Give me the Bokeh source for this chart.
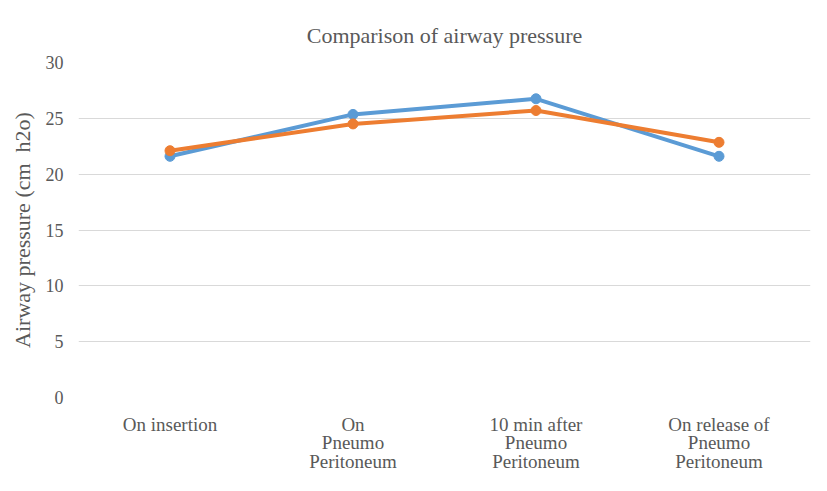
from bokeh.plotting import figure
from bokeh.models import FactorRange, Range1d, FixedTicker, Title
from bokeh.embed import file_html
from bokeh.resources import INLINE

categories = ["On insertion", "On\nPneumo\nPeritoneum", "10 min after\nPneumo\nPeritoneum", "On release of\nPneumo\nPeritoneum"]
series_blue = [21.6, 25.35, 26.75, 21.6]
series_orange = [22.1, 24.5, 25.7, 22.85]
y_ticks = [0, 5, 10, 15, 20, 25, 30]

FONT = "Liberation Serif"
TXT = "#595959"

p = figure(width=811, height=475, x_range=FactorRange(*categories, range_padding=0),
           y_range=Range1d(0, 30), output_backend="svg", toolbar_location=None,
           min_border_left=78, min_border_right=1, min_border_top=62, min_border_bottom=73)
p.title = Title(text="Comparison of airway pressure", align="center", text_font=FONT,
                text_font_size="22px", text_font_style="normal", text_color=TXT, standoff=30)
p.outline_line_color = None
p.background_fill_color = "white"
p.border_fill_color = "white"

p.line(categories, series_blue, line_color="#5B9BD5", line_width=4)
p.scatter(categories, series_blue, size=10, fill_color="#5B9BD5", line_color="#5B9BD5")
p.line(categories, series_orange, line_color="#ED7D31", line_width=4)
p.scatter(categories, series_orange, size=10, fill_color="#ED7D31", line_color="#ED7D31")

p.xgrid.grid_line_color = None
p.ygrid.grid_line_color = "#d9d9d9"
p.ygrid.grid_line_width = 1
p.yaxis.ticker = FixedTicker(ticks=y_ticks)

for ax in [p.xaxis[0], p.yaxis[0]]:
    ax.axis_line_color = None
    ax.major_tick_line_color = None
    ax.minor_tick_line_color = None
    ax.major_label_text_font = FONT
    ax.major_label_text_color = TXT
    ax.axis_label_text_font = FONT
    ax.axis_label_text_color = TXT
    ax.axis_label_text_font_style = "normal"

p.yaxis.major_label_text_font_size = "18px"
p.yaxis.major_label_standoff = 9
p.yaxis.axis_label = "Airway pressure (cm\u00a0 h2o)"
p.yaxis.axis_label_text_font_size = "22px"
p.yaxis.axis_label_standoff = 8
p.xaxis.major_label_text_font_size = "19px"
p.xaxis.major_label_text_line_height = 0.9
p.xaxis.major_label_standoff = 10

open("out.html", "w").write(file_html(p, INLINE))
